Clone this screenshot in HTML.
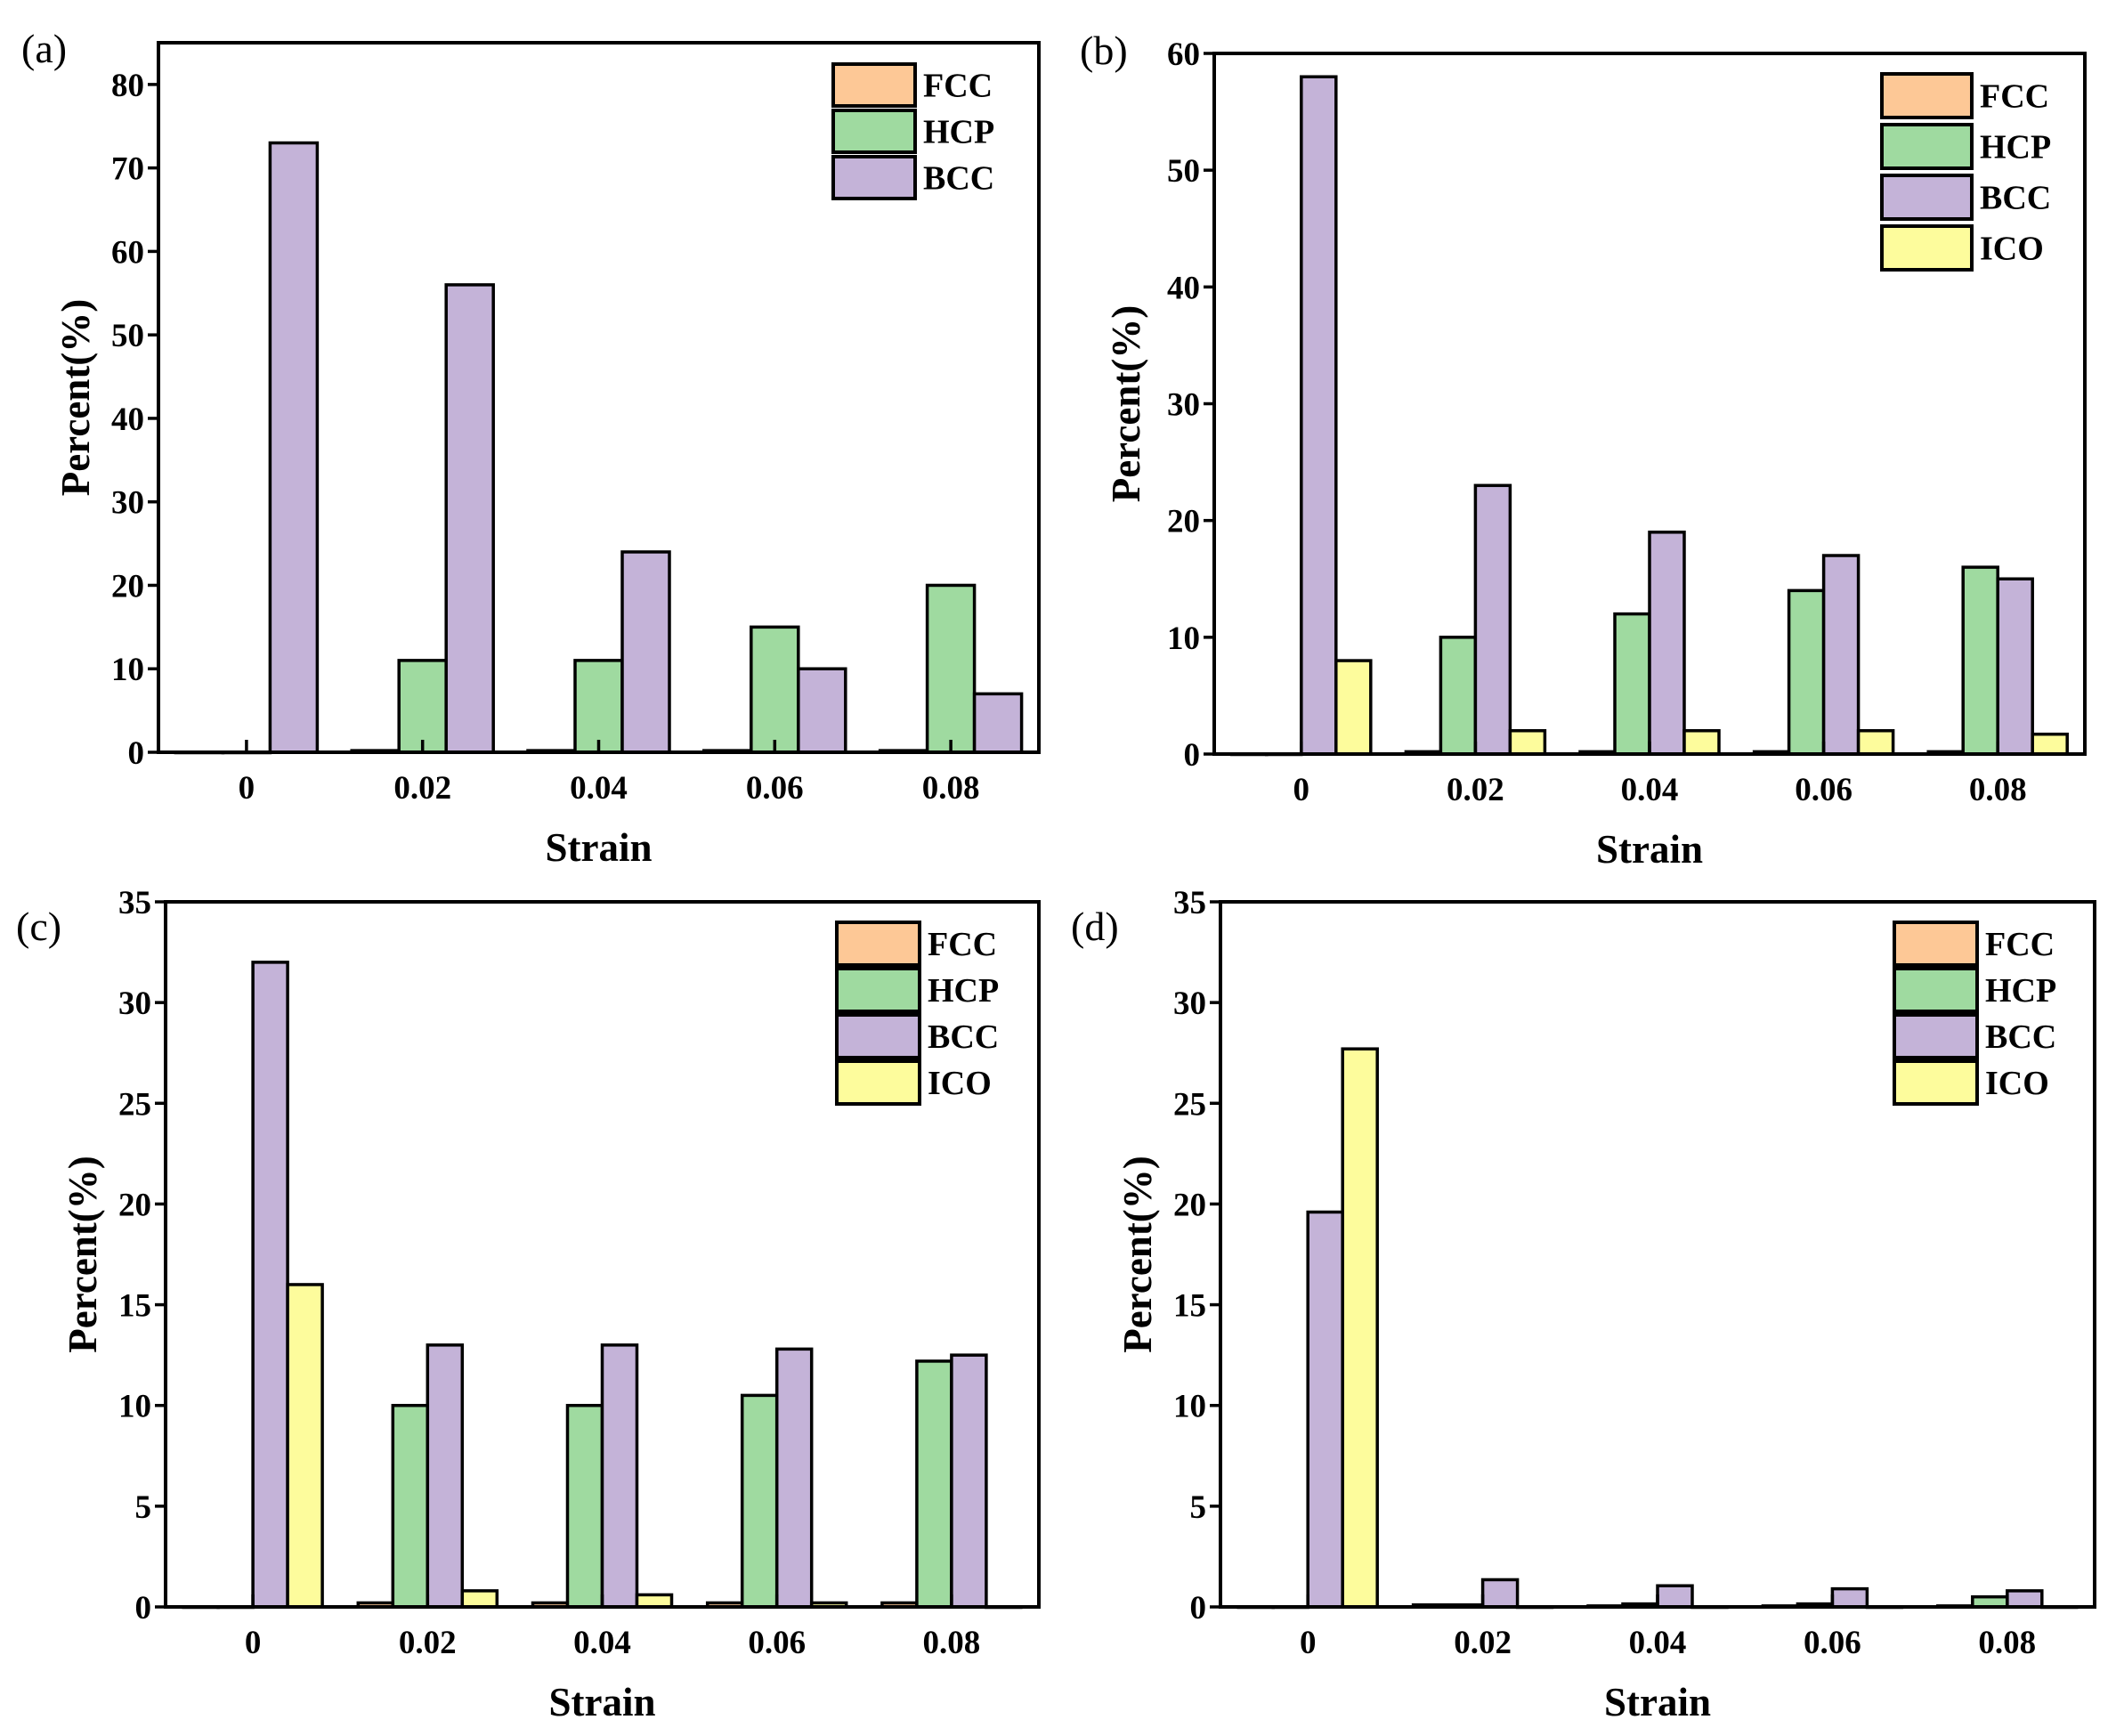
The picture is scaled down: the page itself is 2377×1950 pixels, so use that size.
<!DOCTYPE html>
<html><head><meta charset="utf-8">
<style>
html,body{margin:0;padding:0;background:#fff;}
svg{display:block;}
text{font-family:"Liberation Serif",serif;}
</style></head>
<body>
<svg id="fig" width="2377" height="1950" viewBox="0 0 2377 1950" xmlns="http://www.w3.org/2000/svg"></svg>
<script>
const categories = [0, 0.02, 0.04, 0.06, 0.08];
const tickLabels = ["0", "0.02", "0.04", "0.06", "0.08"];
const seriesNames = ["FCC", "HCP", "BCC", "ICO"];
const seriesColors = ["#fdc896", "#9fdaa0", "#c4b3d8", "#fdfc9c"];

const aFCC = [0, 0.2, 0.2, 0.2, 0.2];
const aHCP = [0, 11, 11, 15, 20];
const aBCC = [73, 56, 24, 10, 7];

const bFCC = [0, 0.2, 0.2, 0.2, 0.2];
const bHCP = [0, 10, 12, 14, 16];
const bBCC = [58, 23, 19, 17, 15];
const bICO = [8, 2, 2, 2, 1.7];

const cFCC = [0, 0.2, 0.2, 0.2, 0.2];
const cHCP = [0, 10, 10, 10.5, 12.2];
const cBCC = [32, 13, 13, 12.8, 12.5];
const cICO = [16, 0.8, 0.6, 0.2, 0];

const dFCC = [0, 0.1, 0.05, 0.05, 0.05];
const dHCP = [0, 0.1, 0.15, 0.15, 0.5];
const dBCC = [19.6, 1.35, 1.05, 0.9, 0.8];
const dICO = [27.7, 0, 0, 0, 0];

const aYTicks = [0,10,20,30,40,50,60,70,80];
const bYTicks = [0,10,20,30,40,50,60];
const cYTicks = [0,5,10,15,20,25,30,35];
const dYTicks = [0,5,10,15,20,25,30,35];

const NS = "http://www.w3.org/2000/svg";
const svg = document.getElementById("fig");
function mk(tag, attrs, parent){
  const e = document.createElementNS(NS, tag);
  for (const k in attrs) e.setAttribute(k, attrs[k]);
  (parent||svg).appendChild(e);
  return e;
}

function panel(p){
  const g = mk("g", {});
  
  
  const xs = v => p.L + (v - (-0.01)) / 0.1 * (p.R - p.L);
  const ys = v => p.B - v / p.ymax * (p.B - p.T);
  const n = p.series.length;
  const bw = p.bw;
  p.series.forEach((vals, si) => {
    const off = (si - (n - 1) / 2) * bw;
    vals.forEach((v, ci) => {
      const cx = xs(categories[ci]) + off;
      const y = ys(v);
      const r = mk("rect", {x: cx - bw/2, y: y, width: bw, height: Math.max(p.B - y, 0.5),
        fill: seriesColors[si], stroke: "#000", "stroke-width": 3.5}, g);
      
      
    });
  });
  const fr = mk("rect", {x: p.L, y: p.T, width: p.R - p.L, height: p.B - p.T, fill: "none", stroke: "#000", "stroke-width": 4}, g);
  
  
  p.yticks.forEach(t => {
    const y = ys(t);
    mk("line", {x1: p.L - 12, x2: p.L, y1: y, y2: y, stroke: "#000", "stroke-width": 3.5}, g);
    const tx = mk("text", {x: p.L - 16, y: y + 13, "text-anchor": "end", "font-size": 37, "font-weight": "bold"}, g);
    tx.textContent = t;
    
    
  });
  categories.forEach((c, i) => {
    const x = xs(c);
    mk("line", {x1: x, x2: x, y1: p.B, y2: p.B - 14, stroke: "#000", "stroke-width": 3.5}, g);
    const tx = mk("text", {x: x, y: p.B + 52, "text-anchor": "middle", "font-size": 37, "font-weight": "bold"}, g);
    tx.textContent = tickLabels[i];
    
    
  });
  const xt = mk("text", {x: (p.L + p.R) / 2, y: p.B + 122, "text-anchor": "middle", "font-size": 45, "font-weight": "bold"}, g);
  xt.textContent = "Strain";
  
  
  const yc = (p.T + p.B) / 2 + p.ytOff;
  const yt = mk("text", {x: p.ytx, y: yc, "text-anchor": "middle", "font-size": 45, "font-weight": "bold",
    transform: "rotate(-90 " + p.ytx + " " + yc + ")"}, g);
  yt.textContent = "Percent(%)";
  
  
  const pl = mk("text", {x: p.lx, y: p.ly, "font-size": 46}, g);
  pl.textContent = "(" + p.id + ")";
  
  
  p.series.forEach((_, si) => {
    const y = p.legY + si * p.legStep;
    const r = mk("rect", {x: p.legX, y: y, width: p.legW, height: p.legH, fill: seriesColors[si], stroke: "#000", "stroke-width": 4}, g);
    
    
    const t = mk("text", {x: p.legX + p.legW + 9, y: y + p.legH/2 + 13, "font-size": 38, "font-weight": "bold"}, g);
    t.textContent = seriesNames[si];
    
    
  });
}

panel({id:"a", L:178, R:1167, T:48, B:845, ymax:85, yticks:aYTicks, series:[aFCC,aHCP,aBCC], bw:53,
  ytx:100, ytOff:0, lx:24, ly:70, legX:936, legY:72, legStep:52, legW:92, legH:47});
panel({id:"b", L:1364, R:2342, T:60, B:847, ymax:60, yticks:bYTicks, series:[bFCC,bHCP,bBCC,bICO], bw:39,
  ytx:1280, ytOff:0, lx:1213, ly:72, legX:2114, legY:83, legStep:57, legW:101, legH:49});
panel({id:"c", L:186, R:1167, T:1013, B:1805, ymax:35, yticks:cYTicks, series:[cFCC,cHCP,cBCC,cICO], bw:39,
  ytx:108, ytOff:0, lx:18, ly:1056, legX:940, legY:1036, legStep:52, legW:93, legH:48});
panel({id:"d", L:1371, R:2353, T:1013, B:1805, ymax:35, yticks:dYTicks, series:[dFCC,dHCP,dBCC,dICO], bw:39,
  ytx:1293, ytOff:0, lx:1203, ly:1056, legX:2128, legY:1036, legStep:52, legW:93, legH:48});
</script>
</body></html>
